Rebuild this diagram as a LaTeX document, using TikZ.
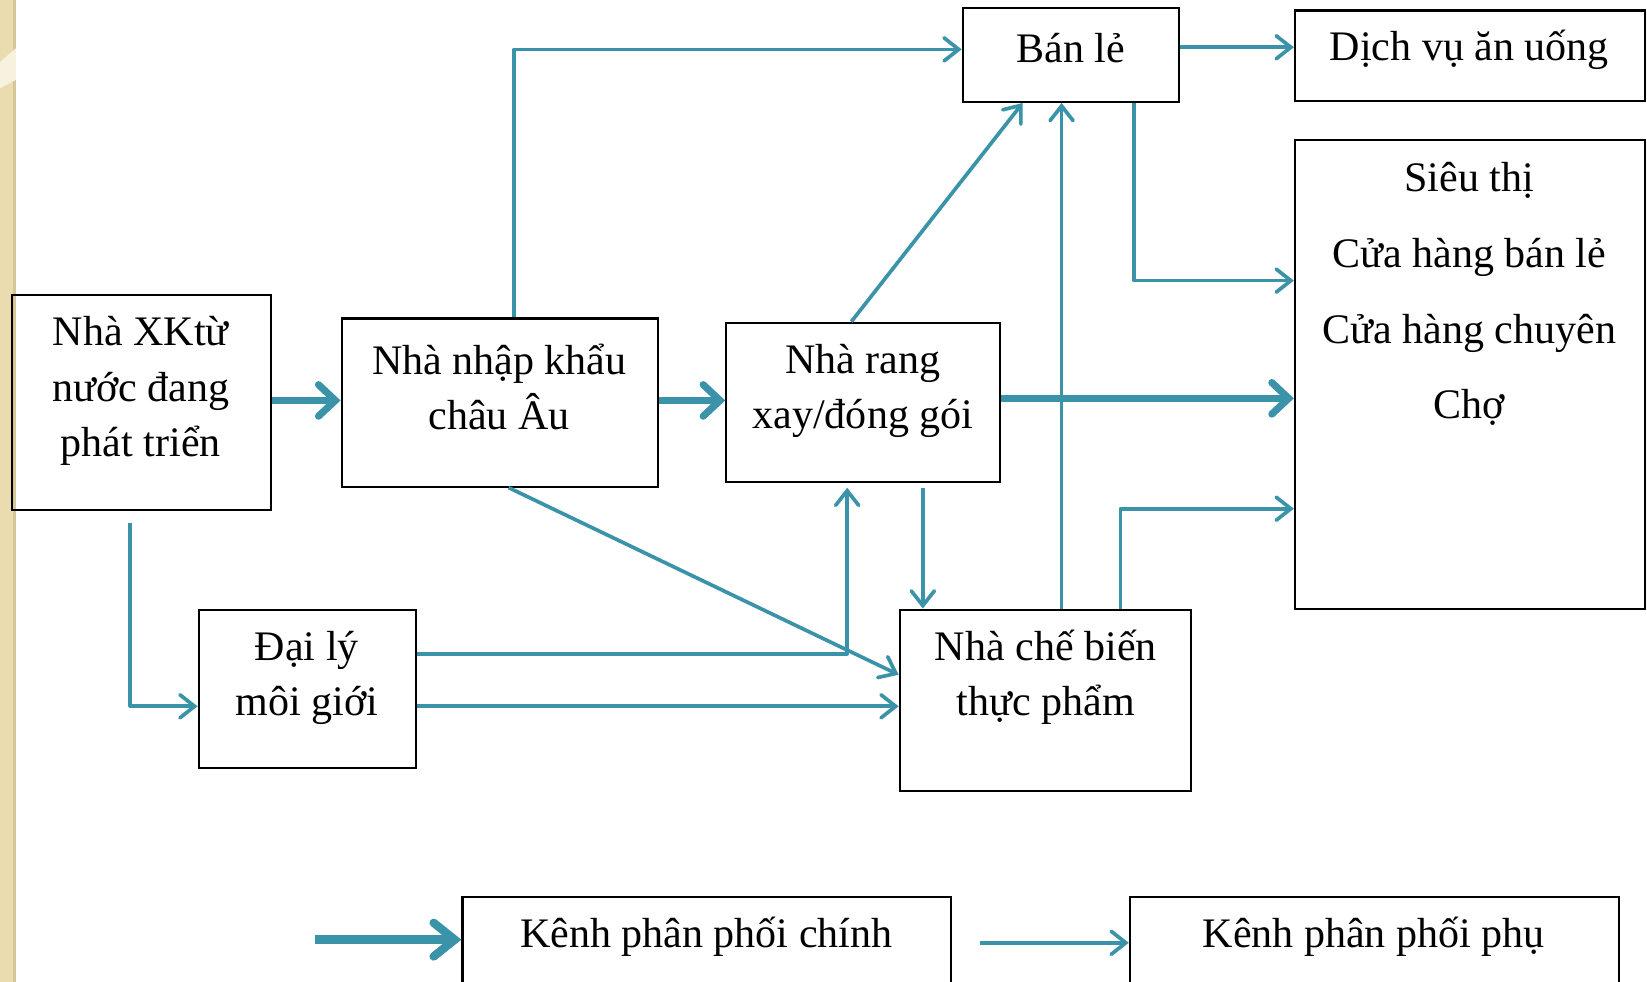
\documentclass[tikz,border=0pt]{standalone}
\usepackage{fontspec}
\setmainfont{Liberation Serif}
\usetikzlibrary{arrows.meta,fit,calc}
\definecolor{flow}{HTML}{3B93AA}
\definecolor{beige}{HTML}{EADCAE}
\definecolor{beigedark}{HTML}{D6C796}
\begin{document}
\begin{tikzpicture}[x=0.5pt,y=-0.5pt,
  box/.style={draw=black,line width=1pt,inner sep=0pt},
  txt/.style={font=\fontsize{20}{26.25}\selectfont,align=center,inner sep=0pt},
  txtwide/.style={font=\fontsize{20}{36}\selectfont,align=center,inner sep=0pt},
  subarr/.style={draw=flow,line width=1.75pt,line join=round,
    -{Straight Barb[length=7pt,width=11pt,line cap=round]}},
  mainarr/.style={draw=flow,line width=3.4pt,
    -{Straight Barb[length=8pt,width=15pt,line cap=round]}},
  legarr/.style={draw=flow,line width=4pt,
    -{Straight Barb[length=10pt,width=16pt,line cap=round]}}]
\useasboundingbox (0,0) rectangle (1567,934.3);
\clip (0,0) rectangle (1567,934.3);
% background strip
\fill[beige] (0,0) rectangle (15,934.3);
\fill[beigedark] (12,0) rectangle (15,934.3);
\fill[beige!40!white] (0,59) -- (15,46) -- (15,76) -- (0,84) -- cycle;
% boxes
\node[box,fit={(11,281)(258,485)}] (xk) {};
\node[txt] (xkt) at (134,372) {Nhà XKtừ\\nước đang\\phát triển};
\node[box,fit={(325,303)(626,463)}] (nk) {};
\node[txt] (nkt) at (475,368) {Nhà nhập khẩu\\châu Âu};
\node[box,fit={(691,307)(951,459)}] (rg) {};
\node[txt] (rgt) at (821,372) {Nhà rang\\xay/đóng gói};
\node[box,fit={(916,8)(1122,97)}] (bl) {};
\node[txt] (blt) at (1019,46) {Bán lẻ};
\node[box,fit={(1232,10)(1565,96)}] (dv) {};
\node[txt] (dvt) at (1398,47) {Dịch vụ ăn uống};
\node[box,fit={(1232,133)(1565,579)}] (st) {};
\node[txtwide] (stt) at (1398,280) {Siêu thị\\Cửa hàng bán lẻ\\Cửa hàng chuyên\\Chợ};
\node[box,fit={(189,580)(396,731)}] (dl) {};
\node[txt] (dlt) at (292,645) {Đại lý\\môi giới};
\node[box,fit={(856,580)(1133,753)}] (cb) {};
\node[txt] (cbt) at (995,644) {Nhà chế biến\\thực phẩm};
\node[box,fit={(440,853)(905,950)}] (lg1) {};
\node[txt] (lg1t) at (672,891) {Kênh phân phối chính};
\node[box,fit={(1075,853)(1540,950)}] (lg2) {};
\node[txt] (lg2t) at (1307,891) {Kênh phân phối phụ};
% main channel
\draw[mainarr] (xk.east |- 0,381) -- (nk.west |- 0,381);
\draw[mainarr] (nk.east |- 0,381) -- (rg.west |- 0,381);
\draw[mainarr] (rg.east |- 0,379) -- (st.west |- 0,379);
% secondary channel
\draw[subarr] (489,0 |- nk.north) -- (489,47) -- (bl.west |- 0,47);
\draw[subarr] (810,0 |- rg.north) -- (973,0 |- bl.south);
\draw[subarr] (1010,0 |- cb.north) -- (1010,0 |- bl.south);
\draw[subarr] (bl.east |- 0,45) -- (dv.west |- 0,45);
\draw[subarr] (1079,0 |- bl.south) -- (1079,267) -- (st.west |- 0,267);
\draw[subarr] (1066,0 |- cb.north) -- (1066,484) -- (st.west |- 0,484);
\draw[subarr] ([yshift=-2pt]878,0 |- rg.south) -- (878,0 |- cb.north);
\draw[subarr] (484,0 |- nk.south) -- (cb.west |- 0,642);
\draw[subarr] (dl.east |- 0,622) -- (806,622) -- ([yshift=-2pt]806,0 |- rg.south);
\draw[subarr] (dl.east |- 0,672) -- (cb.west |- 0,672);
\draw[subarr] ([yshift=-6pt]124,0 |- xk.south) -- (124,672) -- (dl.west |- 0,672);
% legend arrows
\coordinate (l1s) at (300,894);
\coordinate (l2s) at (932,897);
\draw[legarr] (l1s) -- (lg1.west |- l1s);
\draw[subarr] (l2s) -- (lg2.west |- l2s);
\end{tikzpicture}
\end{document}
